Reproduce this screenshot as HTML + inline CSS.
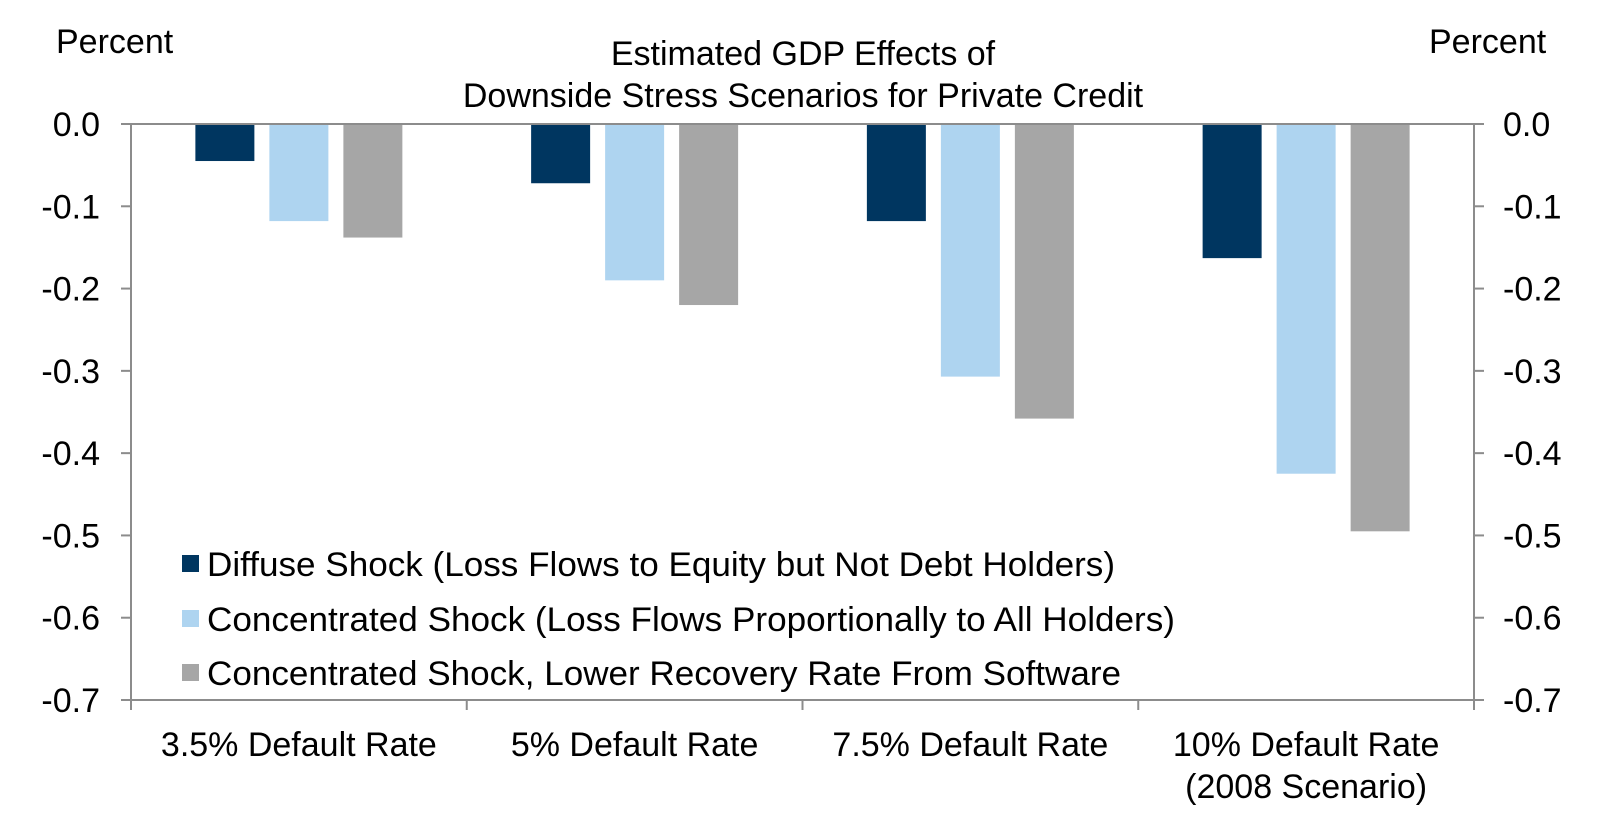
<!DOCTYPE html>
<html><head><meta charset="utf-8"><style>
html,body{margin:0;padding:0;background:#fff;}
svg{display:block;font-family:"Liberation Sans",Arial,sans-serif;}
</style></head><body>
<svg id="chart" width="1614" height="818" viewBox="0 0 1614 818">
<text x="56" y="53" font-size="34" fill="#000">Percent</text>
<text x="1429" y="53" font-size="34" fill="#000">Percent</text>
<text x="803" y="65" font-size="34" text-anchor="middle" fill="#000">Estimated GDP Effects of</text>
<text x="803" y="107" font-size="34" text-anchor="middle" fill="#000">Downside Stress Scenarios for Private Credit</text>
<g id="grid"></g><g id="bars"></g><g id="axes"></g>
<g>
<rect x="182" y="555" width="17" height="17" fill="#003660"/>
<text x="207" y="576" font-size="34" textLength="908" lengthAdjust="spacingAndGlyphs">Diffuse Shock (Loss Flows to Equity but Not Debt Holders)</text>
<rect x="182" y="610" width="17" height="17" fill="#aed4f0"/>
<text x="207" y="631" font-size="34" textLength="968" lengthAdjust="spacingAndGlyphs">Concentrated Shock (Loss Flows Proportionally to All Holders)</text>
<rect x="182" y="664" width="17" height="17" fill="#a6a6a6"/>
<text x="207" y="685" font-size="34" textLength="914" lengthAdjust="spacingAndGlyphs">Concentrated Shock, Lower Recovery Rate From Software</text>
</g>
</svg>
<script>
const categories = ["3.5% Default Rate", "5% Default Rate", "7.5% Default Rate", "10% Default Rate|(2008 Scenario)"];
const diffuse = [-0.045, -0.072, -0.118, -0.163];
const concentrated = [-0.118, -0.19, -0.307, -0.425];
const software = [-0.138, -0.22, -0.358, -0.495];
const yTicks = [0.0, -0.1, -0.2, -0.3, -0.4, -0.5, -0.6, -0.7];
const yTickLabels = ["0.0", "-0.1", "-0.2", "-0.3", "-0.4", "-0.5", "-0.6", "-0.7"];

const NS = "http://www.w3.org/2000/svg";
const X0 = 131, X1 = 1474, Y0 = 124, Y1 = 700, YMIN = -0.7, YMAX = 0;
function yScale(v){ return Y0 + (YMAX - v) / (YMAX - YMIN) * (Y1 - Y0); }
const band = (X1 - X0) / categories.length;
function xCenter(i){ return X0 + band * (i + 0.5); }
function mk(tag, attrs, parent){ const e = document.createElementNS(NS, tag); for (const k in attrs) e.setAttribute(k, attrs[k]); parent.appendChild(e); return e; }
const barsG = document.getElementById("bars"), axesG = document.getElementById("axes");
const series = [diffuse, concentrated, software];
const colors = ["#003660", "#aed4f0", "#a6a6a6"];
const snames = ["diffuse", "concentrated", "software"];
const BW = 59, PITCH = 74;
series.forEach((s, si) => {
  s.forEach((v, i) => {
    const x = xCenter(i) + (si - 1) * PITCH - BW / 2;
    const yA = yScale(0), yB = yScale(v);
    const r = mk("rect", {x: x, y: Math.min(yA, yB), width: BW, height: Math.abs(yB - yA), fill: colors[si]}, barsG);
    
    
  });
});
const ac = "#8c8c8c";
let l;
l = mk("line", {x1: X0, y1: Y0, x2: X1, y2: Y0, stroke: ac, "stroke-width": 2}, axesG);
 
l = mk("line", {x1: X0, y1: Y1, x2: X1, y2: Y1, stroke: ac, "stroke-width": 2}, axesG);
 
l = mk("line", {x1: X0, y1: Y0, x2: X0, y2: Y1 + 10, stroke: ac, "stroke-width": 2}, axesG);
 
l = mk("line", {x1: X1, y1: Y0, x2: X1, y2: Y1 + 10, stroke: ac, "stroke-width": 2}, axesG);
 
yTicks.forEach((t, i) => {
  const y = yScale(t);
  mk("line", {x1: X0 - 10, y1: y, x2: X0, y2: y, stroke: ac, "stroke-width": 2}, axesG);
  mk("line", {x1: X1, y1: y, x2: X1 + 10, y2: y, stroke: ac, "stroke-width": 2}, axesG);
  const a = mk("text", {x: 100, y: y + 12, "font-size": 34, "text-anchor": "end"}, axesG);
  a.textContent = yTickLabels[i];
   
  const b = mk("text", {x: 1503, y: y + 12, "font-size": 34}, axesG);
  b.textContent = yTickLabels[i];
   
});
for (let i = 1; i < categories.length; i++) {
  const x = X0 + band * i;
  mk("line", {x1: x, y1: Y1, x2: x, y2: Y1 + 10, stroke: ac, "stroke-width": 2}, axesG);
}
categories.forEach((c, i) => {
  c.split("|").forEach((line, j) => {
    const t = mk("text", {x: xCenter(i), y: 756 + j * 42, "font-size": 34, "text-anchor": "middle"}, axesG);
    t.textContent = line;
     
  });
});
</script>
</body></html>
